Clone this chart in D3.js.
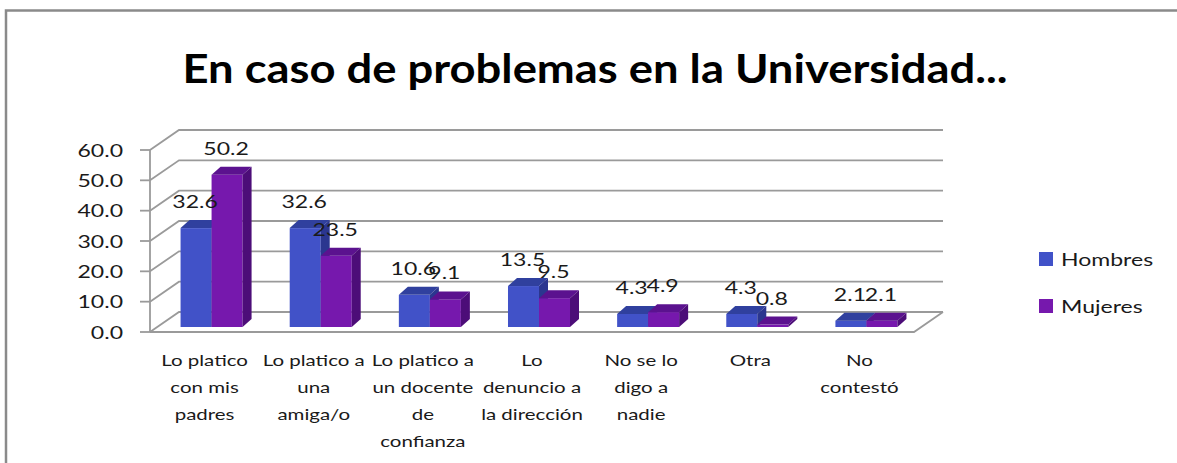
<!DOCTYPE html>
<html>
<head>
<meta charset="utf-8">
<script src="https://cdn.jsdelivr.net/npm/d3@7"></script>
<style>
  html, body { margin: 0; padding: 0; background: #fff; }
  svg { display: block; font-family: Lato, 'Open Sans', sans-serif; }
</style>
</head>
<body>
<div id="chart"></div>
<script>
// ── data ───────────────────────────────────────────────────────
const categories = [
  'Lo platico\ncon mis\npadres',
  'Lo platico a\nuna\namiga/o',
  'Lo platico a\nun docente\nde\nconfianza',
  'Lo\ndenuncio a\nla dirección',
  'No se lo\ndigo a\nnadie',
  'Otra',
  'No\ncontestó',
]
const seriesNames = ['Hombres', 'Mujeres']
const hombres = [32.6, 32.6, 10.6, 13.5, 4.3, 4.3, 2.1]
const mujeres = [50.2, 23.5, 9.1, 9.5, 4.9, 0.8, 2.1]
const yTicks = [0, 10, 20, 30, 40, 50, 60]
const title = 'En caso de problemas en la Universidad...'

const COLORS = {
  Hombres: { front: '#4152c8', top: '#30409e', side: '#2b368f' },
  Mujeres: { front: '#7618ad', top: '#5b128f', side: '#4c0d78' },
}

const W = 1177, H = 463
const SX = 1.28                    // horizontal stretch of the text
const WALL = { dx: 29, dy: -20 }   // depth of the back wall
const PLANE = { dx: 7, dy: -5 }    // where the bars stand in depth
const DEPTH = { dx: 9, dy: -8 }    // bar depth

const svg = d3.select('#chart').append('svg').attr('width', W).attr('height', H)

// stretched text helper
function stext(g, x, y, str, size, anchor, extra = {}) {
  const t = g.append('text')
    .attr('transform', `translate(${x},${y}) scale(${SX},1)`)
    .attr('text-anchor', anchor)
    .style('font-size', size + 'px')
    .attr('fill', extra.fill || '#1a1a1a')
    .text(str)
  return t
}

// frame
svg.append('rect')
  .attr('x', 6).attr('y', 10.5).attr('width', W + 20).attr('height', H + 20)
  .attr('fill', 'none').attr('stroke', '#8a8a8a').attr('stroke-width', 2.5)

// title
svg.append('text')
  .attr('x', 595).attr('y', 83)
  .attr('text-anchor', 'middle')
  .attr('textLength', 825).attr('lengthAdjust', 'spacingAndGlyphs')
  .style('font-size', '41px').style('font-weight', 700)
  .attr('fill', '#000')
  .text(title)

// ── scales ─────────────────────────────────────────────────────
const x = d3.scaleBand().domain(categories).range([150, 914]).padding(0)
const x1 = d3.scaleBand().domain(seriesNames).range([0, x.bandwidth()]).paddingInner(0).paddingOuter(0.76)
const y = d3.scaleLinear().domain([0, 60]).range([332, 150])

const gGrid = svg.append('g')
const [x0, x1r] = x.range()

// side wall + back wall gridlines
yTicks.forEach(v => {
  const yy = y(v)
  gGrid.append('path')
    .attr('d', `M${x0},${yy} L${x0 + WALL.dx},${yy + WALL.dy} L${x1r + WALL.dx},${yy + WALL.dy}`)
    .attr('fill', 'none').attr('stroke', '#9a9a9a').attr('stroke-width', 1.8)
})
// floor front + right edge
gGrid.append('path')
  .attr('d', `M${x0},${y(0)} L${x1r},${y(0)} L${x1r + WALL.dx},${y(0) + WALL.dy}`)
  .attr('fill', 'none').attr('stroke', '#9a9a9a').attr('stroke-width', 1.8)

// y axis
const gY = svg.append('g')
gY.append('line')
  .attr('x1', x0).attr('x2', x0).attr('y1', y(60)).attr('y2', y(0))
  .attr('stroke', '#9a9a9a').attr('stroke-width', 1.8)
yTicks.forEach(v => {
  gY.append('line')
    .attr('x1', x0 - 10).attr('x2', x0).attr('y1', y(v)).attr('y2', y(v))
    .attr('stroke', '#9a9a9a').attr('stroke-width', 1.8)
  stext(gY, 123, y(v) + 6.5, d3.format('.1f')(v), 18, 'end')
})

// ── bars ───────────────────────────────────────────────────────
const rows = categories.map((c, i) => ({ cat: c, Hombres: hombres[i], Mujeres: mujeres[i] }))
const gBars = svg.append('g')
const gLabels = svg.append('g')

rows.forEach(r => {
  seriesNames.forEach(s => {
    const v = r[s]
    const bx = x(r.cat) + x1(s) + PLANE.dx
    const bw = x1.bandwidth()
    const yt = y(v) + PLANE.dy
    const yb = y(0) + PLANE.dy
    const c = COLORS[s]
    // front
    gBars.append('rect')
      .attr('x', bx).attr('y', yt).attr('width', bw).attr('height', yb - yt)
      .attr('fill', c.front)
    // top
    gBars.append('path')
      .attr('d', `M${bx},${yt} L${bx + bw},${yt} L${bx + bw + DEPTH.dx},${yt + DEPTH.dy} L${bx + DEPTH.dx},${yt + DEPTH.dy}Z`)
      .attr('fill', c.top)
    // side
    gBars.append('path')
      .attr('d', `M${bx + bw},${yt} L${bx + bw + DEPTH.dx},${yt + DEPTH.dy} L${bx + bw + DEPTH.dx},${yb + DEPTH.dy} L${bx + bw},${yb}Z`)
      .attr('fill', c.side)
    // value label
    stext(gLabels, bx + bw / 2 - 1, yt - 20, d3.format('.1f')(v), 18, 'middle')
  })
})

// ── category labels ────────────────────────────────────────────
const gX = svg.append('g')
categories.forEach(c => {
  c.split('\n').forEach((line, j) => {
    stext(gX, x(c) + x.bandwidth() / 2, 366 + j * 27, line, 16, 'middle')
  })
})

// ── legend ─────────────────────────────────────────────────────
const gLegend = svg.append('g')
seriesNames.forEach((s, i) => {
  const yy = 252 + i * 47
  gLegend.append('rect')
    .attr('x', 1039).attr('y', yy).attr('width', 14).attr('height', 14)
    .attr('fill', COLORS[s].front)
  stext(gLegend, 1061, yy + 14, s, 18, 'start')
})
</script>
</body>
</html>
